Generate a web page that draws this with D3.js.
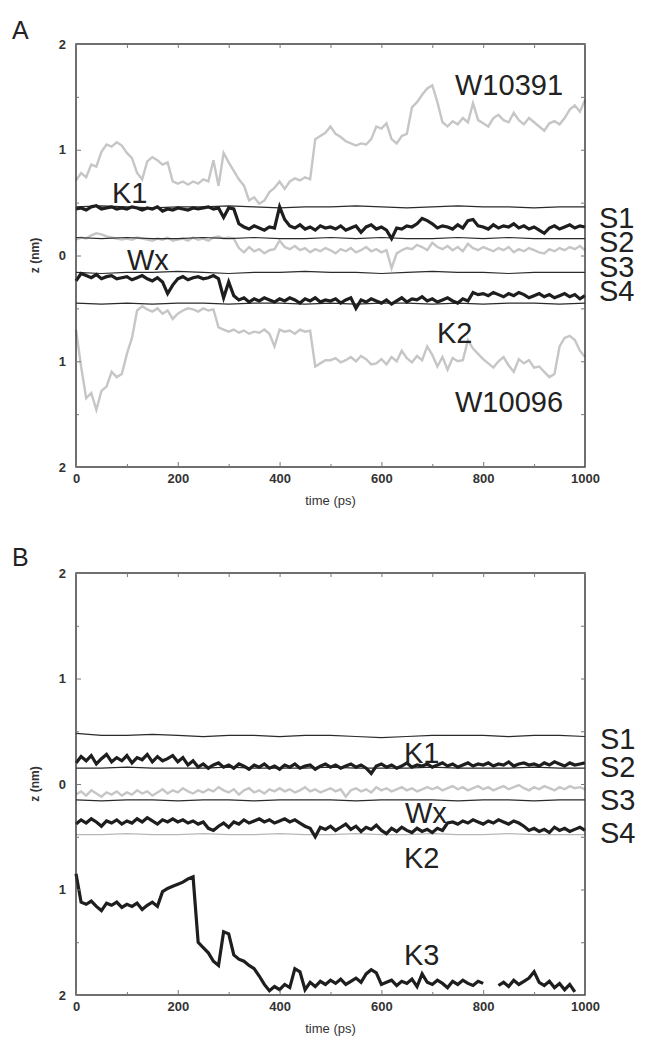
<!DOCTYPE html>
<html><head><meta charset="utf-8">
<script src="https://cdn.jsdelivr.net/npm/d3@7"></script>
<style>
html,body{margin:0;padding:0;background:#fff;}
svg{display:block;}
</style></head>
<body>
<svg id="chart" width="646" height="1037"></svg>
<script>
// ---------- data ----------
// time grid (ps): dense traces sampled every 10 ps, reference lines every 50 ps
const tDense = d3.range(0, 1001, 10);
const tSparse = d3.range(0, 1001, 50);
const xTicks = [0, 200, 400, 600, 800, 1000];
const yTicks = [-2, -1, 0, 1, 2];
const yTickLabels = ["2", "1", "0", "1", "2"];

// Panel A
const A_W10391 = [0.71,0.78,0.74,0.86,0.84,0.98,1.05,1.03,1.07,1.04,
  0.97,0.92,0.78,0.72,0.89,0.93,0.90,0.86,0.88,0.70,
  0.68,0.70,0.67,0.70,0.68,0.72,0.70,0.90,0.66,0.97,
  0.88,0.80,0.72,0.66,0.52,0.55,0.49,0.52,0.60,0.64,
  0.70,0.63,0.70,0.73,0.71,0.74,0.72,1.10,1.13,1.16,
  1.22,1.15,1.12,1.08,1.06,1.04,1.06,1.05,1.10,1.22,
  1.20,1.25,1.10,1.06,1.13,1.15,1.40,1.45,1.52,1.58,
  1.61,1.45,1.26,1.22,1.27,1.24,1.30,1.26,1.44,1.28,
  1.25,1.22,1.30,1.33,1.28,1.26,1.35,1.28,1.24,1.30,
  1.26,1.22,1.18,1.25,1.27,1.24,1.30,1.38,1.42,1.36,
  1.47];
const A_W10096 = [-0.70,-1.05,-1.35,-1.30,-1.46,-1.28,-1.24,-1.10,-1.15,-1.12,
  -0.93,-0.78,-0.52,-0.48,-0.51,-0.53,-0.50,-0.55,-0.52,-0.60,
  -0.55,-0.52,-0.50,-0.51,-0.53,-0.50,-0.52,-0.51,-0.68,-0.70,
  -0.72,-0.70,-0.73,-0.71,-0.74,-0.72,-0.73,-0.70,-0.74,-0.86,
  -0.70,-0.72,-0.71,-0.74,-0.70,-0.72,-0.71,-1.05,-1.02,-0.99,
  -0.99,-0.97,-1.01,-0.99,-0.96,-1.00,-0.95,-0.98,-1.03,-1.02,
  -0.98,-1.03,-0.96,-1.00,-0.90,-0.97,-1.01,-0.95,-0.99,-0.86,
  -0.94,-1.05,-0.96,-1.08,-0.97,-1.00,-0.99,-0.80,-0.88,-0.93,
  -0.98,-1.02,-1.06,-1.00,-0.96,-1.04,-1.10,-0.98,-1.02,-0.99,
  -1.06,-1.05,-1.10,-1.15,-1.12,-0.86,-0.78,-0.76,-0.80,-0.90,
  -0.96];
const A_K1 = [0.44,0.45,0.43,0.46,0.47,0.44,0.45,0.46,0.44,0.45,
  0.44,0.46,0.45,0.43,0.45,0.44,0.46,0.42,0.44,0.43,
  0.45,0.44,0.43,0.45,0.44,0.45,0.46,0.44,0.45,0.36,
  0.45,0.44,0.30,0.27,0.25,0.28,0.26,0.24,0.27,0.26,
  0.46,0.34,0.28,0.26,0.29,0.25,0.27,0.24,0.28,0.26,
  0.27,0.25,0.28,0.24,0.26,0.28,0.22,0.27,0.29,0.25,
  0.27,0.24,0.16,0.26,0.25,0.28,0.27,0.30,0.35,0.33,
  0.30,0.26,0.28,0.27,0.25,0.29,0.26,0.33,0.34,0.28,
  0.27,0.25,0.29,0.26,0.28,0.27,0.30,0.26,0.28,0.25,
  0.27,0.24,0.21,0.26,0.28,0.25,0.27,0.29,0.26,0.28,
  0.27];
const A_Wx = [0.15,0.17,0.16,0.19,0.21,0.20,0.18,0.17,0.16,0.15,
  0.16,0.15,0.17,0.16,0.15,0.14,0.16,0.15,0.17,0.14,
  0.15,0.16,0.14,0.17,0.15,0.16,0.14,0.17,0.18,0.16,
  0.17,0.16,0.07,0.03,0.08,0.04,0.06,0.02,0.05,0.06,
  0.14,0.08,0.06,0.09,0.05,0.07,0.03,0.06,0.04,0.07,
  0.05,0.02,0.06,0.04,0.07,0.03,0.05,0.08,0.04,0.06,
  0.03,0.05,-0.12,0.02,0.05,0.07,0.06,0.10,0.08,0.05,
  0.12,0.08,0.06,0.09,0.05,0.08,0.04,0.11,0.07,0.05,
  0.08,0.06,0.04,0.07,0.05,0.08,0.03,0.06,0.04,0.07,
  0.05,0.03,0.02,0.06,0.04,0.07,0.05,0.08,0.06,0.09,
  0.05];
const A_K2 = [-0.24,-0.17,-0.19,-0.21,-0.18,-0.22,-0.20,-0.19,-0.22,-0.21,
  -0.20,-0.23,-0.21,-0.19,-0.22,-0.24,-0.21,-0.25,-0.36,-0.28,
  -0.22,-0.20,-0.23,-0.21,-0.20,-0.22,-0.21,-0.19,-0.22,-0.40,
  -0.25,-0.38,-0.42,-0.40,-0.44,-0.41,-0.43,-0.40,-0.42,-0.44,
  -0.41,-0.43,-0.40,-0.42,-0.45,-0.41,-0.43,-0.40,-0.44,-0.42,
  -0.43,-0.41,-0.45,-0.42,-0.40,-0.50,-0.42,-0.44,-0.41,-0.43,
  -0.45,-0.42,-0.46,-0.43,-0.40,-0.44,-0.41,-0.42,-0.39,-0.43,
  -0.41,-0.44,-0.42,-0.40,-0.43,-0.45,-0.41,-0.43,-0.35,-0.37,
  -0.36,-0.38,-0.35,-0.37,-0.39,-0.36,-0.38,-0.35,-0.37,-0.40,
  -0.38,-0.36,-0.39,-0.37,-0.40,-0.38,-0.36,-0.39,-0.37,-0.41,
  -0.38];
const A_S1 = [0.46,0.47,0.46,0.45,0.46,0.46,0.47,0.46,0.45,0.46,0.46,0.47,0.46,0.45,0.46,0.47,0.46,0.46,0.45,0.46,0.46];
const A_S2 = [0.17,0.16,0.17,0.16,0.16,0.17,0.16,0.17,0.16,0.16,0.17,0.16,0.17,0.16,0.16,0.17,0.16,0.17,0.16,0.16,0.16];
const A_S3 = [-0.16,-0.17,-0.16,-0.16,-0.15,-0.16,-0.17,-0.16,-0.16,-0.15,-0.16,-0.16,-0.17,-0.16,-0.15,-0.16,-0.16,-0.17,-0.16,-0.16,-0.16];
const A_S4 = [-0.45,-0.46,-0.45,-0.46,-0.45,-0.45,-0.46,-0.45,-0.45,-0.46,-0.45,-0.46,-0.45,-0.45,-0.46,-0.45,-0.46,-0.45,-0.45,-0.46,-0.45];

// Panel B
const B_K1 = [0.20,0.26,0.22,0.27,0.19,0.24,0.28,0.21,0.25,0.22,
  0.27,0.20,0.25,0.23,0.28,0.21,0.26,0.22,0.24,0.27,
  0.21,0.25,0.18,0.22,0.16,0.19,0.15,0.18,0.20,0.16,
  0.18,0.15,0.19,0.17,0.14,0.18,0.16,0.19,0.15,0.17,
  0.14,0.18,0.16,0.19,0.15,0.17,0.18,0.14,0.17,0.19,
  0.16,0.18,0.15,0.17,0.19,0.16,0.18,0.15,0.10,0.17,
  0.19,0.16,0.18,0.15,0.17,0.20,0.16,0.18,0.17,0.19,
  0.16,0.18,0.20,0.17,0.19,0.16,0.18,0.20,0.17,0.19,
  0.18,0.20,0.17,0.19,0.18,0.21,0.17,0.19,0.20,0.18,
  0.19,0.17,0.20,0.18,0.21,0.19,0.17,0.20,0.18,0.19,
  0.20];
const B_Wx = [-0.10,-0.07,-0.11,-0.06,-0.09,-0.12,-0.08,-0.10,-0.07,-0.11,
  -0.08,-0.10,-0.06,-0.09,-0.07,-0.11,-0.08,-0.05,-0.09,-0.06,
  -0.08,-0.04,-0.07,-0.09,-0.06,-0.08,-0.05,-0.07,-0.03,-0.06,
  -0.08,-0.05,-0.10,-0.06,-0.04,-0.08,-0.06,-0.09,-0.05,-0.07,
  -0.04,-0.07,-0.05,-0.08,-0.06,-0.03,-0.07,-0.05,-0.08,-0.06,
  -0.04,-0.07,-0.05,-0.12,-0.06,-0.04,-0.07,-0.05,-0.08,-0.03,
  -0.06,-0.04,-0.07,-0.05,-0.03,-0.06,-0.04,-0.07,-0.05,-0.03,
  -0.05,-0.03,-0.06,-0.04,-0.02,-0.05,-0.03,-0.06,-0.04,-0.02,
  -0.05,-0.03,-0.06,-0.04,-0.02,-0.05,-0.03,-0.01,-0.04,-0.06,
  -0.03,-0.05,-0.02,-0.04,-0.06,-0.03,-0.05,-0.02,-0.04,-0.03,
  -0.05];
const B_K2 = [-0.38,-0.34,-0.37,-0.33,-0.36,-0.40,-0.35,-0.37,-0.34,-0.38,
  -0.35,-0.37,-0.33,-0.36,-0.32,-0.35,-0.38,-0.34,-0.36,-0.33,
  -0.36,-0.34,-0.37,-0.35,-0.38,-0.36,-0.42,-0.44,-0.40,-0.37,
  -0.41,-0.36,-0.38,-0.34,-0.37,-0.35,-0.33,-0.36,-0.34,-0.37,
  -0.35,-0.33,-0.36,-0.34,-0.37,-0.40,-0.42,-0.50,-0.41,-0.43,
  -0.40,-0.44,-0.41,-0.38,-0.43,-0.40,-0.45,-0.41,-0.43,-0.39,
  -0.44,-0.47,-0.42,-0.45,-0.41,-0.44,-0.46,-0.42,-0.45,-0.43,
  -0.46,-0.42,-0.44,-0.37,-0.36,-0.38,-0.35,-0.37,-0.34,-0.36,
  -0.38,-0.35,-0.37,-0.34,-0.36,-0.38,-0.35,-0.37,-0.40,-0.44,
  -0.42,-0.45,-0.43,-0.46,-0.41,-0.44,-0.42,-0.45,-0.43,-0.41,
  -0.44];
const B_K3 = [-0.85,-1.12,-1.14,-1.11,-1.16,-1.20,-1.13,-1.15,-1.12,-1.17,
  -1.14,-1.16,-1.13,-1.19,-1.15,-1.12,-1.16,-1.02,-0.99,-0.97,
  -0.95,-0.93,-0.90,-0.88,-1.50,-1.55,-1.60,-1.68,-1.72,-1.40,
  -1.42,-1.62,-1.66,-1.68,-1.72,-1.75,-1.82,-1.90,-1.96,-1.92,
  -1.95,-1.90,-1.93,-1.75,-1.78,-1.95,-1.88,-1.92,-1.87,-1.90,
  -1.86,-1.89,-1.85,-1.90,-1.87,-1.84,-1.88,-1.80,-1.76,-1.79,
  -1.90,-1.88,-1.86,-1.91,-1.87,-1.89,-1.85,-1.92,-1.80,-1.88,
  -1.90,-1.86,-1.89,-1.93,-1.87,-1.90,-1.86,-1.89,-1.91,-1.87,
  -1.89,null,null,-1.91,-1.88,-1.92,-1.86,-1.90,-1.87,-1.84,
  -1.78,-1.88,-1.91,-1.87,-1.93,-1.89,-1.95,-1.90,-1.97,null,
  null];
const B_S1 = [0.48,0.46,0.46,0.47,0.46,0.45,0.46,0.46,0.45,0.46,0.46,0.45,0.44,0.45,0.46,0.46,0.46,0.45,0.46,0.46,0.45];
const B_S2 = [0.15,0.15,0.16,0.15,0.15,0.15,0.16,0.15,0.15,0.15,0.16,0.15,0.15,0.15,0.16,0.15,0.15,0.15,0.16,0.15,0.15];
const B_S3 = [-0.15,-0.16,-0.15,-0.15,-0.16,-0.15,-0.15,-0.16,-0.15,-0.15,-0.15,-0.16,-0.15,-0.15,-0.15,-0.16,-0.15,-0.15,-0.16,-0.15,-0.15];
const B_S4 = [-0.48,-0.48,-0.47,-0.48,-0.48,-0.47,-0.48,-0.48,-0.47,-0.48,-0.48,-0.47,-0.48,-0.48,-0.47,-0.48,-0.48,-0.47,-0.48,-0.48,-0.48];

// ---------- drawing ----------
const svg = d3.select("#chart");
const FONT = "'Liberation Sans', Arial, Helvetica, sans-serif";
const L = 76, R = 585;
const x = d3.scaleLinear().domain([0, 1000]).range([L, R]);

const BLACK = "#1e1e1e", GREY = "#c6c6c6", THIN = "#2a2a2a";

function series(t, v) { return t.map((d, i) => ({t: d, v: v[i]})); }

function panel(cfg) {
  const y = d3.scaleLinear().domain([-2, 2]).range([cfg.bottom, cfg.top]);
  const g = svg.append("g");
  const line = d3.line().defined(d => d.v !== null).x(d => x(d.t)).y(d => y(d.v));

  cfg.lines.forEach(s => {
    g.append("path")
      .attr("d", line(series(s.t, s.v)))
      .attr("fill", "none")
      .attr("stroke", s.color)
      .attr("stroke-width", s.w)
      .attr("stroke-linejoin", "miter");
  });

  // frame
  g.append("rect").attr("x", L).attr("y", cfg.top)
    .attr("width", R - L).attr("height", cfg.bottom - cfg.top)
    .attr("fill", "none").attr("stroke", "#333").attr("stroke-width", 1.4);

  const tickStyle = sel => {
    sel.select(".domain").remove();
    sel.selectAll(".tick line").attr("stroke", "#777").attr("stroke-width", 1);
    sel.selectAll(".tick text").attr("font-family", FONT).attr("font-size", 13)
      .attr("font-weight", "bold").attr("fill", "#333");
  };
  const minorX = [100, 300, 500, 700, 900];
  const minorY = [-1.5, -0.5, 0.5, 1.5];
  g.append("g").attr("transform", `translate(0,${cfg.bottom})`)
    .call(d3.axisBottom(x).tickValues(xTicks).tickSizeInner(-5).tickSizeOuter(0).tickPadding(7)
      .tickFormat(d3.format("d")))
    .call(tickStyle);
  g.append("g").attr("transform", `translate(0,${cfg.bottom})`)
    .call(d3.axisBottom(x).tickValues(minorX).tickSizeInner(-3).tickSizeOuter(0).tickFormat(""))
    .call(tickStyle);
  g.append("g").attr("transform", `translate(0,${cfg.top})`)
    .call(d3.axisTop(x).tickValues(xTicks.concat(minorX)).tickSizeInner(-4).tickSizeOuter(0).tickFormat(""))
    .call(tickStyle);
  g.append("g").attr("transform", `translate(${L},0)`)
    .call(d3.axisLeft(y).tickValues(yTicks).tickSizeInner(-5).tickSizeOuter(0).tickPadding(10)
      .tickFormat((d, i) => yTickLabels[i]))
    .call(tickStyle);
  g.append("g").attr("transform", `translate(${L},0)`)
    .call(d3.axisLeft(y).tickValues(minorY).tickSizeInner(-3).tickSizeOuter(0).tickFormat(""))
    .call(tickStyle);
  g.append("g").attr("transform", `translate(${R},0)`)
    .call(d3.axisRight(y).tickValues(yTicks.concat(minorY)).tickSizeInner(-4).tickSizeOuter(0).tickFormat(""))
    .call(tickStyle);

  // axis titles
  g.append("text").attr("x", (L + R) / 2).attr("y", cfg.bottom + 38)
    .attr("text-anchor", "middle").attr("font-family", FONT).attr("font-size", 13)
    .attr("fill", "#333").text("time (ps)");
  g.append("text").attr("transform", `translate(39,${y(0)}) rotate(-90)`)
    .attr("text-anchor", "middle").attr("font-family", FONT).attr("font-size", 12)
    .attr("font-weight", "bold").attr("fill", "#333").text("z (nm)");

  // panel letter
  g.append("text").attr("x", 12).attr("y", cfg.letterY)
    .attr("font-family", FONT).attr("font-size", 25).attr("fill", "#222").text(cfg.letter);

  // annotations
  cfg.labels.forEach(l => {
    g.append("text").attr("x", l.x).attr("y", l.y)
      .attr("font-family", FONT).attr("font-size", 29).attr("fill", "#222").text(l.text);
  });
}

panel({
  letter: "A", letterY: 39, top: 44, bottom: 467,
  lines: [
    {t: tDense, v: A_W10391, color: GREY, w: 2.4},
    {t: tDense, v: A_W10096, color: GREY, w: 2.4},
    {t: tDense, v: A_Wx, color: GREY, w: 2.4},
    {t: tSparse, v: A_S1, color: THIN, w: 1.2},
    {t: tSparse, v: A_S2, color: THIN, w: 1.2},
    {t: tSparse, v: A_S3, color: THIN, w: 1.2},
    {t: tSparse, v: A_S4, color: THIN, w: 1.2},
    {t: tDense, v: A_K1, color: BLACK, w: 3.2},
    {t: tDense, v: A_K2, color: BLACK, w: 3.2}
  ],
  labels: [
    {text: "W10391", x: 455, y: 95},
    {text: "W10096", x: 455, y: 412},
    {text: "K1", x: 112, y: 203},
    {text: "Wx", x: 127, y: 270},
    {text: "K2", x: 437, y: 343},
    {text: "S1", x: 599, y: 228},
    {text: "S2", x: 599, y: 252},
    {text: "S3", x: 599, y: 277},
    {text: "S4", x: 599, y: 301}
  ]
});

panel({
  letter: "B", letterY: 566, top: 573, bottom: 995,
  lines: [
    {t: tDense, v: B_Wx, color: GREY, w: 2.4},
    {t: tSparse, v: B_S4, color: "#b8b8b8", w: 1.3},
    {t: tSparse, v: B_S1, color: THIN, w: 1.2},
    {t: tSparse, v: B_S2, color: THIN, w: 1.2},
    {t: tSparse, v: B_S3, color: THIN, w: 1.2},
    {t: tDense, v: B_K1, color: BLACK, w: 3.2},
    {t: tDense, v: B_K2, color: BLACK, w: 3.2},
    {t: tDense, v: B_K3, color: BLACK, w: 3.2}
  ],
  labels: [
    {text: "K1", x: 404, y: 763},
    {text: "Wx", x: 405, y: 823},
    {text: "K2", x: 404, y: 868},
    {text: "K3", x: 404, y: 965},
    {text: "S1", x: 600, y: 749},
    {text: "S2", x: 600, y: 777},
    {text: "S3", x: 600, y: 810},
    {text: "S4", x: 600, y: 843}
  ]
});
</script>
</body></html>
